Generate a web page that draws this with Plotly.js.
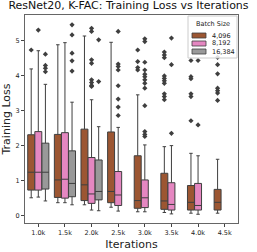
<!DOCTYPE html>
<html><head><meta charset="utf-8">
<script src="https://cdn.plot.ly/plotly-3.0.1.min.js"></script>
<style>html,body{margin:0;padding:0;background:#fff;}#chart{width:257px;height:252px;}</style>
</head><body><div id="chart"></div>
<script>
const categories = ['1.0k','1.5k','2.0k','2.5k','3.0k','3.5k','4.0k','4.5k'];
const seriesNames = ['4,096','8,192','16,384'];
const legendTitle = 'Batch Size';

// 4,096
const b4096_q1  = [0.73,0.52,0.43,0.37,0.21,0.18,0.16,0.16];
const b4096_med = [1.24,1.02,0.88,0.69,0.43,0.42,0.38,0.38];
const b4096_q3  = [2.31,2.32,2.47,2.39,1.71,1.21,0.86,0.75];
const b4096_lo  = [0.51,0.37,0.31,0.24,0.11,0.09,0.07,0.07];
const b4096_hi  = [4.19,4.88,5.13,4.95,3.45,1.97,1.78,1.61];
const b4096_out = [[4.73],[],[],[],[4.73,4.40,4.23,4.16],[4.67,4.59,4.51,3.99,3.92,3.85,3.78,3.48,3.40,3.31],[4.43,3.97,3.91,3.48,3.40,2.71],[4.52,4.31,4.05,3.64,3.57,3.50,3.29]];

// 8,192
const b8192_q1  = [0.73,0.50,0.35,0.29,0.23,0.16,0.16];
const b8192_med = [1.24,1.04,0.62,0.59,0.51,0.32,0.29];
const b8192_q3  = [2.40,2.37,1.66,1.26,1.02,0.94,0.92];
const b8192_lo  = [0.53,0.37,0.16,0.13,0.11,0.05,0.04];
const b8192_hi  = [4.71,4.94,3.31,2.52,2.02,2.00,1.71];
const b8192_out = [[5.30],[],[5.35,5.26,4.45,4.35,3.88,3.80,3.72,3.69],[5.26,4.33,4.26,4.16,3.71,3.33,3.10,2.86],[5.05,4.97,4.38,4.16,4.04,3.97,3.88,3.78,3.64,3.14,2.40,2.32,2.26],[5.07,4.31,2.35],[4.43,2.59]];

// 16,384
const b16384_q1  = [0.76,0.54,0.45];
const b16384_med = [1.24,0.92,0.69];
const b16384_q3  = [2.07,1.85,1.59];
const b16384_lo  = [0.42,0.31,0.14];
const b16384_hi  = [3.75,3.24,2.54];
const b16384_out = [[4.61,4.29,4.21,4.11],[5.45,5.16,4.64,4.42,4.13],[5.02,3.83]];

const colors = ['#9c5632','#e587c1','#999999'];
const edge = '#3f3f3f';
const hueW = 0.8/3;
const sets = [
  [b4096_q1,b4096_med,b4096_q3,b4096_lo,b4096_hi,b4096_out],
  [b8192_q1,b8192_med,b8192_q3,b8192_lo,b8192_hi,b8192_out],
  [b16384_q1,b16384_med,b16384_q3,b16384_lo,b16384_hi,b16384_out]
];
const traces = [];
sets.forEach((s,h)=>{
  const n = s[0].length;
  const pos = [];
  for(let i=0;i<n;i++) pos.push(i + (h-1)*hueW);
  traces.push({
    type:'box', name:seriesNames[h], x:pos,
    q1:s[0], median:s[1], q3:s[2], lowerfence:s[3], upperfence:s[4],
    boxpoints:false, width:hueW*0.98, whiskerwidth:0.5, showlegend:false,
    fillcolor:colors[h], line:{color:edge,width:1}, hoverinfo:'skip'
  });
  const ox=[], oy=[];
  s[5].forEach((arr,i)=>arr.forEach(v=>{ox.push(pos[i]); oy.push(v);}));
  traces.push({
    type:'scatter', mode:'markers', x:ox, y:oy, showlegend:false,
    marker:{symbol:'diamond', size:4, color:edge}, hoverinfo:'skip'
  });
});

// compact legend drawn in paper coordinates (plot area: x 25..238 px, y 15..223 px)
const M = {l:25,r:19,t:15,b:29};
const PW = 257-M.l-M.r, PH = 252-M.t-M.b;
const px = v => (v-M.l)/PW;
const py = v => (252-M.b-v)/PH;
const shapes = [{type:'rect', xref:'paper', yref:'paper', x0:px(188), x1:px(237), y0:py(58), y1:py(16),
  fillcolor:'rgba(255,255,255,0.85)', line:{color:'#cccccc', width:1}, layer:'above'}];
const annotations = [{xref:'paper', yref:'paper', x:px(212.5), y:py(24), text:legendTitle, showarrow:false,
  xanchor:'center', yanchor:'middle', font:{size:6.5, color:'#222'}}];
seriesNames.forEach((nm,h)=>{
  const cy = 35.5 + h*8;
  shapes.push({type:'rect', xref:'paper', yref:'paper', x0:px(192), x1:px(206), y0:py(cy+2.5), y1:py(cy-2.5),
    fillcolor:colors[h], line:{color:edge, width:0.8}, layer:'above'});
  annotations.push({xref:'paper', yref:'paper', x:px(210), y:py(cy), text:nm, showarrow:false,
    xanchor:'left', yanchor:'middle', font:{size:6.5, color:'#222'}});
});

const layout = {
  width:257, height:252,
  margin:M,
  paper_bgcolor:'#fff', plot_bgcolor:'#fff',
  font:{family:'DejaVu Sans', color:'#222'},
  title:{text:'ResNet20, K-FAC: Training Loss vs Iterations', font:{size:11,color:'#111'}, x:0.5, xanchor:'center', y:0.995, yanchor:'top'},
  showlegend:false,
  shapes:shapes, annotations:annotations,
  xaxis:{range:[-0.5,7.5], tickvals:categories.map((c,i)=>i), ticktext:categories, showgrid:false, zeroline:false,
    ticks:'outside', ticklen:3, tickcolor:'#444', tickfont:{size:6.5},
    showline:true, linecolor:'#666', linewidth:1, mirror:true,
    title:{text:'Iterations', font:{size:11}, standoff:4}},
  yaxis:{range:[-0.21,5.73], tickvals:[0,1,2,3,4,5], showgrid:false, zeroline:false,
    ticks:'outside', ticklen:3, tickcolor:'#444', tickfont:{size:6.5},
    showline:true, linecolor:'#666', linewidth:1, mirror:true,
    title:{text:'Training Loss', font:{size:11}, standoff:4}}
};
Plotly.newPlot('chart', traces, layout, {staticPlot:true, displayModeBar:false});
</script></body></html>
